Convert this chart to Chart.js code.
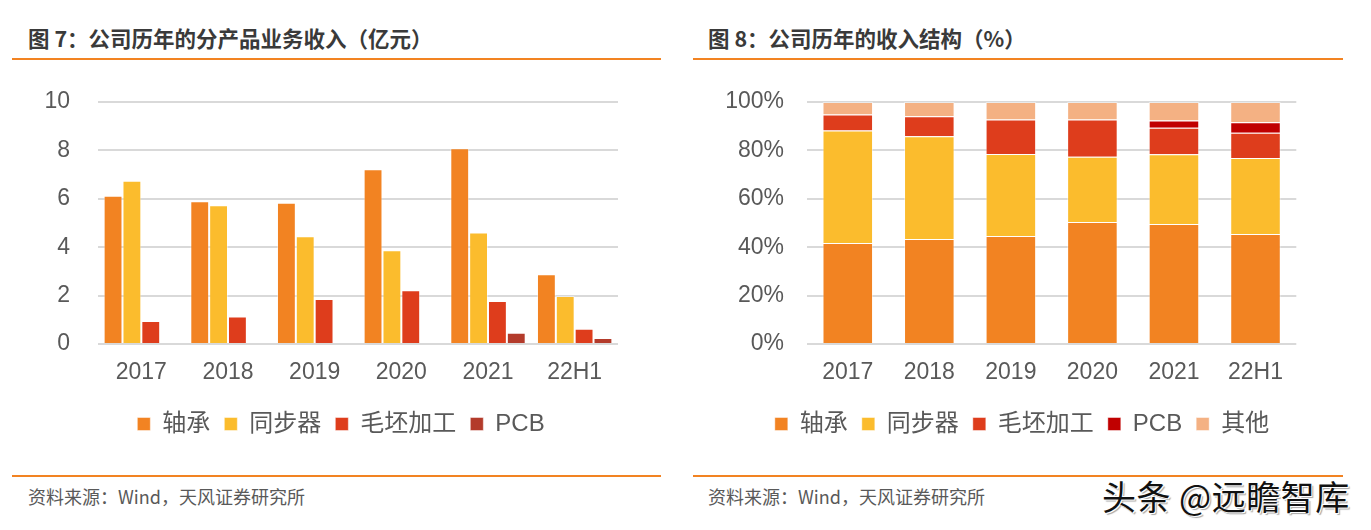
<!DOCTYPE html>
<html>
<head>
<meta charset="utf-8">
<script src="https://cdn.jsdelivr.net/npm/chart.js@4.4.1/dist/chart.umd.min.js"></script>
<style>
  html, body { margin: 0; padding: 0; background: #fff; width: 1371px; height: 530px; overflow: hidden; }
  .abs { position: absolute; }
  .title { font-family: "Noto Sans CJK SC", sans-serif; font-weight: bold; font-size: 21.5px; color: #3a3a3a; line-height: 26px; white-space: nowrap; }
  .rule { height: 2px; background: #F28322; }
  .src { font-family: "Noto Sans CJK SC", sans-serif; font-size: 18px; color: #595959; line-height: 22px; white-space: nowrap; }
  .wm { font-family: "Noto Sans CJK SC", sans-serif; font-size: 34px; color: #111; line-height: 40px; white-space: nowrap; letter-spacing: 0.5px;
        text-shadow: 1px 1px 0 #fff, -1px -1px 0 #fff, 2px 2px 1px rgba(0,0,0,0.35); }
</style>
</head>
<body>
<div class="abs title" style="left:28px; top:25px;">图 7：公司历年的分产品业务收入（亿元）</div>
<div class="abs title" style="left:708px; top:25px;">图 8：公司历年的收入结构（%）</div>
<div class="abs rule" style="left:12px; top:58px; width:649px;"></div>
<div class="abs rule" style="left:693px; top:58px; width:650px;"></div>

<div class="abs" style="left:0px; top:80px; width:618px; height:366px;"><canvas id="c1" width="618" height="366"></canvas></div>
<div class="abs" style="left:690px; top:80px; width:608px; height:366px;"><canvas id="c2" width="608" height="366"></canvas></div>

<div class="abs rule" style="left:12px; top:475px; width:649px;"></div>
<div class="abs rule" style="left:693px; top:475px; width:650px;"></div>
<div class="abs src" style="left:28px; top:485px;">资料来源：Wind，天风证券研究所</div>
<div class="abs src" style="left:708px; top:485px;">资料来源：Wind，天风证券研究所</div>
<div class="abs wm" style="left:1102px; top:476px;">头条 @远瞻智库</div>

<script>
// ---------- data ----------
const categories = ['2017', '2018', '2019', '2020', '2021', '22H1'];
const seriesNames = ['轴承', '同步器', '毛坯加工', 'PCB', '其他'];

// 图7：分产品业务收入（亿元）
const revBearing = [6.13, 5.90, 5.84, 7.22, 8.09, 2.88];
const revSynchro = [6.75, 5.73, 4.45, 3.87, 4.61, 1.98];
const revBlank   = [0.95, 1.14, 1.86, 2.22, 1.78, 0.63];
const revPCB     = [null, null, null, null, 0.47, 0.25];
const revTicks   = [0, 2, 4, 6, 8, 10];

// 图8：收入结构（%）
const shareBearing = [41.7, 43.4, 44.6, 50.4, 49.6, 45.5];
const shareSynchro = [46.5, 42.4, 33.9, 27.0, 28.8, 31.4];
const shareBlank   = [6.6, 8.3, 14.3, 15.4, 11.0, 10.4];
const sharePCB     = [null, null, null, null, 3.0, 4.3];
const shareOther   = [5.2, 5.9, 7.2, 7.2, 7.6, 8.4];
const shareTicks   = [0, 20, 40, 60, 80, 100];

// ---------- styles ----------
const FONT = "'Liberation Sans', 'Noto Sans CJK SC', sans-serif";
const TXT = '#595959';
const C_BEARING = '#F28322', C_SYNC = '#FBBC2D', C_BLANK = '#DE3D1C', C_PCB1 = '#B33B2B', C_PCB2 = '#C00000', C_OTHER = '#F4B183';
const EDGE = 'rgba(255,255,255,0.45)';

function ds(label, data, color) {
  return { label, data, backgroundColor: color, borderColor: EDGE, borderWidth: 1, borderSkipped: 'bottom' };
}

// shifts the bottom legend horizontally so it sits where the reference has it
const legendShift = {
  id: 'legendShift',
  afterLayout(chart, args, opts) {
    const l = chart.legend;
    if (l && opts.dx) { l.left += opts.dx; l.right += opts.dx; }
  }
};

function baseOptions(opts) {
  return {
    responsive: false,
    animation: false,
    devicePixelRatio: 1,
    layout: { padding: { top: 22, bottom: 0, left: 0, right: 0 } },
    plugins: {
      tooltip: { enabled: false },
      legendShift: { dx: opts.legendDx },
      legend: {
        position: 'bottom',
        labels: { boxWidth: 13, boxHeight: 13, padding: 14, color: TXT, font: { family: FONT, size: 24 } }
      }
    },
    scales: {
      x: {
        stacked: opts.stacked,
        grid: { display: false, drawTicks: false },
        border: { display: false },
        ticks: { color: TXT, padding: 15, font: { family: FONT, size: 23 } },
        afterFit: s => { s.height = 54; }
      },
      y: {
        stacked: opts.stacked,
        min: 0, max: opts.max,
        afterBuildTicks: s => { s.ticks = opts.ticks.map(v => ({ value: v })); },
        grid: { color: '#D9D9D9', lineWidth: 2, drawTicks: false },
        border: { display: false },
        ticks: { color: TXT, padding: opts.tickPad, font: { family: FONT, size: 23 }, callback: opts.fmt },
        afterFit: s => { s.width = opts.yw; s.paddingTop = 0; s.paddingBottom = 0; }
      }
    }
  };
}

new Chart(document.getElementById('c1'), {
  type: 'bar',
  data: {
    labels: categories,
    datasets: [
      ds(seriesNames[0], revBearing, C_BEARING),
      ds(seriesNames[1], revSynchro, C_SYNC),
      ds(seriesNames[2], revBlank, C_BLANK),
      ds(seriesNames[3], revPCB, C_PCB1)
    ].map(d => Object.assign(d, { categoryPercentage: 0.87, barPercentage: 1.0 }))
  },
  options: baseOptions({ yw: 98, tickPad: 28, max: 10, ticks: revTicks, stacked: false, legendDx: 32, fmt: v => String(v) }),
  plugins: [legendShift]
});

new Chart(document.getElementById('c2'), {
  type: 'bar',
  data: {
    labels: categories,
    datasets: [
      ds(seriesNames[0], shareBearing, C_BEARING),
      ds(seriesNames[1], shareSynchro, C_SYNC),
      ds(seriesNames[2], shareBlank, C_BLANK),
      ds(seriesNames[3], sharePCB, C_PCB2),
      ds(seriesNames[4], shareOther, C_OTHER)
    ].map(d => Object.assign(d, { categoryPercentage: 0.62, barPercentage: 1.0 }))
  },
  options: baseOptions({ yw: 117, tickPad: 23, max: 100, ticks: shareTicks, stacked: true, legendDx: 28, fmt: v => v + '%' }),
  plugins: [legendShift]
});
</script>
</body>
</html>
